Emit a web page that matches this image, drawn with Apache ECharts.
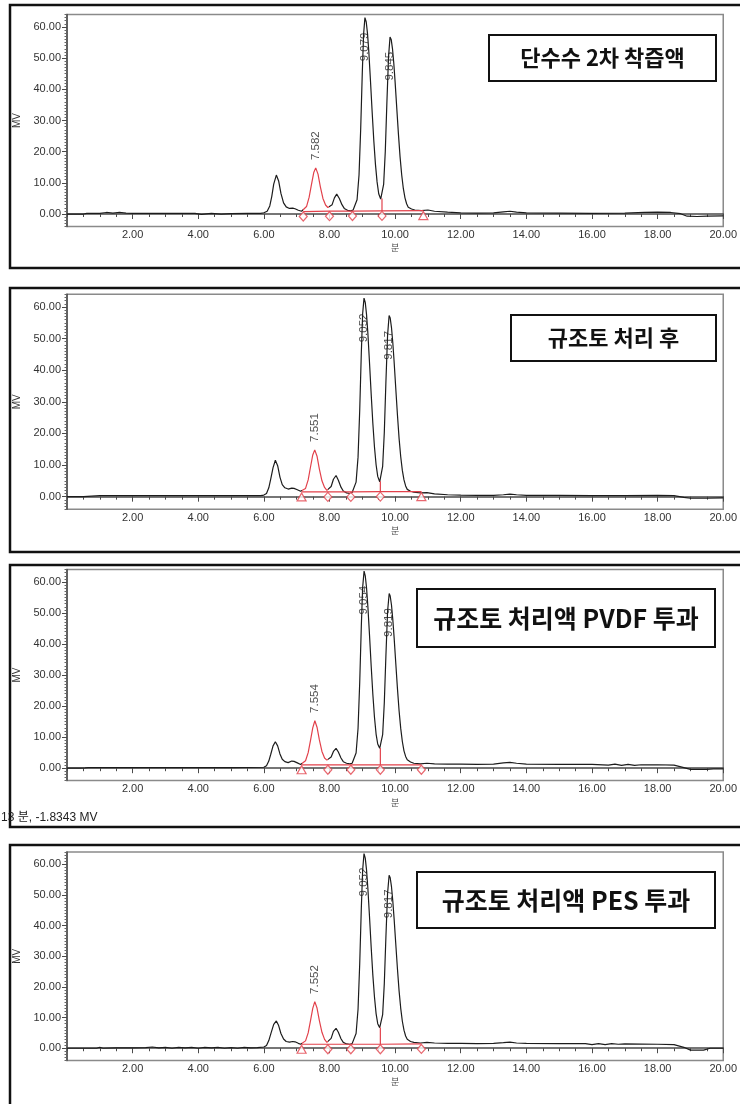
<!DOCTYPE html>
<html><head><meta charset="utf-8">
<script src="https://cdn.jsdelivr.net/npm/echarts@6/dist/echarts.min.js"></script>
<style>html,body{margin:0;padding:0;background:#fff}#c{width:740px;height:1104px}</style>
</head><body><div id="c"></div>
<script>
// ---------------- data ----------------
const panelTitles = ['단수수 2차 착즙액', '규조토 처리 후', '규조토 처리액 PVDF 투과', '규조토 처리액 PES 투과'];
const yTickValues = [0, 10, 20, 30, 40, 50, 60];
const xTickValues = [2, 4, 6, 8, 10, 12, 14, 16, 18, 20];
const xAxisName = '분';
const yAxisName = 'MV';
const cursorReadout = '13 분, -1.8343 MV';

const p1Signal = [[0,0],[0.5,0],[0.6,0.2],[1.0,0.2],[1.2,0.5],[1.4,0.3],[1.6,0.5],[1.8,0.3],[2.0,0.2],[3.0,0.2],[3.9,0.2],[4.1,-0.1],[4.4,0.2],[4.7,0.0],[5.0,0.1],[5.5,0.2],[5.9,0.2],[6.0,0.4],[6.1,0.9],[6.18,2.6],[6.24,5.6],[6.3,9.6],[6.38,12.5],[6.45,10.6],[6.52,6.6],[6.6,3.6],[6.68,2.3],[6.78,1.8],[6.88,1.9],[6.95,1.7],[7.05,1.2],[7.15,0.9],[7.2,0.9],[7.3,2.4],[7.38,5.4],[7.45,9.4],[7.52,13.3],[7.58,14.8],[7.65,12.8],[7.72,8.8],[7.8,5.0],[7.88,2.9],[7.95,2.1],[8.0,2.1],[8.08,3.0],[8.15,5.2],[8.22,6.4],[8.3,5.0],[8.38,3.0],[8.45,1.8],[8.55,1.2],[8.65,1.0],[8.72,1.3],[8.78,1.9],[8.84,4.6],[8.9,12.5],[8.95,27.0],[9.0,45.5],[9.04,57.8],[9.08,63.0],[9.12,61.6],[9.16,57.7],[9.2,51.8],[9.25,42.5],[9.3,32.7],[9.35,23.6],[9.4,16.0],[9.45,10.3],[9.5,6.5],[9.56,4.8],[9.6,5.3],[9.65,9.5],[9.7,20.0],[9.75,36.0],[9.8,50.5],[9.845,56.8],[9.88,56.0],[9.92,53.0],[9.96,48.3],[10.0,42.3],[10.05,34.0],[10.1,25.8],[10.15,18.4],[10.2,12.6],[10.25,8.2],[10.3,5.2],[10.35,3.3],[10.4,2.2],[10.5,1.6],[10.6,1.3],[10.8,1.1],[11.0,1.3],[11.2,0.9],[11.6,0.6],[12.0,0.4],[12.5,0.3],[13.0,0.4],[13.3,0.7],[13.5,0.9],[13.7,0.6],[14.0,0.4],[15.0,0.3],[16.0,0.2],[17.0,0.3],[17.6,0.5],[18.0,0.6],[18.4,0.5],[18.7,0.1],[18.9,-0.7],[19.2,-0.8],[19.5,-0.7],[20.0,-0.6]];
const p2Signal = [[0,0],[0.5,0],[0.55,0.3],[1,0.3],[2,0.3],[3,0.3],[4,0.3],[5,0.3],[5.9,0.3],[6.0,0.5],[6.08,1.0],[6.15,2.8],[6.21,5.6],[6.28,9.2],[6.35,11.5],[6.42,9.8],[6.49,6.2],[6.56,3.8],[6.64,2.8],[6.74,2.4],[6.85,2.7],[6.92,2.6],[7.02,2.2],[7.12,1.7],[7.17,1.6],[7.27,2.6],[7.35,5.3],[7.42,9.3],[7.49,13.2],[7.55,14.8],[7.62,12.8],[7.69,8.8],[7.77,5.0],[7.85,2.9],[7.92,2.0],[7.97,2.0],[8.05,3.2],[8.12,5.5],[8.2,6.7],[8.27,5.2],[8.35,3.0],[8.42,1.8],[8.52,1.2],[8.62,1.0],[8.69,1.3],[8.75,1.9],[8.81,4.6],[8.87,12.5],[8.92,27.0],[8.97,45.5],[9.01,57.8],[9.052,62.8],[9.09,61.4],[9.13,57.5],[9.17,51.6],[9.22,42.3],[9.27,32.5],[9.32,23.4],[9.37,15.8],[9.42,10.1],[9.47,6.4],[9.53,4.7],[9.57,5.3],[9.62,9.6],[9.67,20.2],[9.72,36.5],[9.77,51.0],[9.817,57.3],[9.85,56.5],[9.89,53.4],[9.93,48.6],[9.97,42.6],[10.02,34.2],[10.07,26.0],[10.12,18.5],[10.17,12.7],[10.22,8.3],[10.27,5.3],[10.32,3.4],[10.37,2.3],[10.47,1.7],[10.57,1.4],[10.77,1.2],[10.97,1.3],[11.2,0.9],[11.6,0.6],[12,0.5],[12.5,0.4],[13,0.4],[13.3,0.6],[13.5,0.8],[13.7,0.6],[14,0.4],[15,0.4],[16,0.3],[17,0.3],[18,0.4],[18.5,0.3],[18.8,-0.2],[19.0,-0.5],[19.5,-0.5],[20,-0.4]];
const p3Signal = [[0,0],[0.3,0],[0.35,0.2],[0.42,0],[0.55,0.1],[0.65,0.2],[1,0.2],[2,0.2],[3,0.2],[4,0.2],[5,0.2],[6.0,0.3],[6.08,0.8],[6.15,2.3],[6.21,4.5],[6.28,7.2],[6.35,8.5],[6.42,7.2],[6.49,4.6],[6.56,2.9],[6.64,2.1],[6.74,1.8],[6.85,2.3],[6.92,2.2],[7.02,1.7],[7.12,1.2],[7.17,1.2],[7.27,2.4],[7.35,5.0],[7.42,8.9],[7.49,13.0],[7.554,15.3],[7.62,13.2],[7.69,9.2],[7.77,5.4],[7.85,3.3],[7.92,2.6],[7.97,2.6],[8.05,3.6],[8.12,5.4],[8.2,6.4],[8.27,5.2],[8.35,3.3],[8.42,2.1],[8.52,1.6],[8.62,1.4],[8.69,1.6],[8.75,2.2],[8.81,4.9],[8.87,12.8],[8.92,27.3],[8.97,45.8],[9.01,58.2],[9.054,63.5],[9.09,62.0],[9.13,58.0],[9.17,52.0],[9.22,42.8],[9.27,33.0],[9.32,24.0],[9.37,16.5],[9.42,11.0],[9.47,7.8],[9.53,6.4],[9.57,6.8],[9.62,10.8],[9.67,21.0],[9.72,36.5],[9.77,50.5],[9.819,56.3],[9.85,55.5],[9.89,52.5],[9.93,47.8],[9.97,42.0],[10.02,33.8],[10.07,25.8],[10.12,18.6],[10.17,12.9],[10.22,8.6],[10.27,5.6],[10.32,3.8],[10.37,2.7],[10.47,2.0],[10.57,1.6],[10.77,1.4],[10.97,1.6],[11.2,1.4],[11.6,1.3],[12,1.3],[12.5,1.2],[13,1.3],[13.3,1.7],[13.5,1.9],[13.7,1.6],[14,1.3],[15,1.2],[16,1.2],[16.5,1.0],[16.7,1.3],[16.9,0.9],[17.1,1.2],[17.3,0.9],[17.5,1.1],[18,1.1],[18.5,1.0],[18.8,0.2],[19.0,-0.4],[19.5,-0.4],[19.7,-0.2],[20,-0.2]];
const p4Signal = [[0,0],[0.9,0],[1.0,0.3],[1.1,0],[1.5,0.1],[2.0,0.1],[2.4,0.2],[2.6,0.4],[2.8,0.1],[3.0,0.3],[3.2,0.0],[3.4,0.3],[3.6,0.1],[3.8,0.3],[4.0,0.0],[4.2,0.3],[4.4,0.1],[4.6,0.3],[4.8,0.0],[5.0,0.2],[5.2,0.0],[5.4,0.3],[5.6,0.1],[5.8,0.2],[6.0,0.4],[6.08,0.9],[6.15,2.5],[6.22,5.0],[6.3,7.8],[6.38,8.9],[6.45,7.4],[6.52,4.8],[6.6,3.0],[6.68,2.2],[6.78,2.0],[6.88,2.2],[6.95,2.1],[7.05,1.6],[7.12,1.3],[7.17,1.3],[7.27,2.4],[7.35,5.0],[7.42,8.9],[7.49,13.0],[7.552,15.2],[7.62,13.1],[7.69,9.1],[7.77,5.2],[7.85,2.9],[7.92,1.9],[7.97,1.9],[8.05,3.2],[8.12,5.5],[8.2,6.5],[8.27,5.2],[8.35,3.1],[8.42,1.9],[8.52,1.4],[8.62,1.3],[8.69,1.5],[8.75,2.1],[8.81,4.8],[8.87,12.7],[8.92,27.2],[8.97,45.7],[9.01,58.0],[9.052,63.5],[9.09,62.0],[9.13,58.0],[9.17,52.0],[9.22,42.8],[9.27,33.0],[9.32,24.0],[9.37,16.8],[9.42,11.3],[9.47,8.0],[9.53,6.7],[9.57,7.1],[9.62,11.0],[9.67,21.0],[9.72,36.5],[9.77,50.5],[9.817,56.4],[9.85,55.6],[9.89,52.6],[9.93,47.9],[9.97,42.1],[10.02,34.0],[10.07,26.0],[10.12,18.8],[10.17,13.1],[10.22,8.8],[10.27,5.9],[10.32,4.0],[10.37,2.9],[10.47,2.2],[10.57,1.9],[10.77,1.7],[10.97,1.9],[11.2,1.7],[11.6,1.6],[12,1.6],[12.5,1.5],[13,1.6],[13.3,1.8],[13.5,2.0],[13.7,1.7],[14,1.6],[15,1.5],[15.8,1.5],[16.0,1.2],[16.2,1.5],[16.4,1.2],[16.6,1.5],[16.8,1.3],[17,1.4],[18,1.3],[18.5,1.2],[18.8,0.3],[19.0,-0.6],[19.4,-0.6],[19.6,0.0],[20,0.0]];

const p1PeakLabels = ['7.582', '9.079', '9.845'];
const p2PeakLabels = ['7.551', '9.052', '9.817'];
const p3PeakLabels = ['7.554', '9.054', '9.819'];
const p4PeakLabels = ['7.552', '9.052', '9.817'];
const p1PeakHeights = [14.8, 63.0, 56.8];
const p2PeakHeights = [14.8, 62.8, 57.3];
const p3PeakHeights = [15.3, 63.5, 56.3];
const p4PeakHeights = [15.2, 63.5, 56.4];

const p1Baseline = [[7.2,0.8],[8.0,0.9],[8.7,0.95],[9.6,1.0],[10.86,1.1]];
const p2Baseline = [[7.15,1.5],[7.95,1.5],[8.65,1.5],[9.55,1.6],[10.8,1.6]];
const p3Baseline = [[7.15,1.1],[7.95,1.1],[8.65,1.1],[9.55,1.1],[10.8,1.1]];
const p4Baseline = [[7.15,1.3],[7.95,1.3],[8.65,1.3],[9.55,1.3],[10.8,1.4]];
const p1MarkShapes = ['diamond','diamond','diamond','diamond','triangle'];
const p2MarkShapes = ['triangle','diamond','diamond','diamond','triangle'];
const p3MarkShapes = ['triangle','diamond','diamond','diamond','diamond'];
const p4MarkShapes = ['triangle','diamond','diamond','diamond','diamond'];
const p1ValleyDrop = [9.6, 5.0];
const p2ValleyDrop = [9.55, 4.9];
const p3ValleyDrop = [9.55, 6.5];
const p4ValleyDrop = [9.55, 6.8];
const p1RedPeakRange = [7.2, 8.0];
const p2RedPeakRange = [7.15, 7.95];
const p3RedPeakRange = [7.15, 7.95];
const p4RedPeakRange = [7.15, 7.95];

// ---------------- build ----------------
const panels = [
  {signal: p1Signal, labels: p1PeakLabels, heights: p1PeakHeights, base: p1Baseline, shapes: p1MarkShapes, drop: p1ValleyDrop, red: p1RedPeakRange},
  {signal: p2Signal, labels: p2PeakLabels, heights: p2PeakHeights, base: p2Baseline, shapes: p2MarkShapes, drop: p2ValleyDrop, red: p2RedPeakRange},
  {signal: p3Signal, labels: p3PeakLabels, heights: p3PeakHeights, base: p3Baseline, shapes: p3MarkShapes, drop: p3ValleyDrop, red: p3RedPeakRange},
  {signal: p4Signal, labels: p4PeakLabels, heights: p4PeakHeights, base: p4Baseline, shapes: p4MarkShapes, drop: p4ValleyDrop, red: p4RedPeakRange}
];
// layout (pixels)
const gridTops = [14.5, 294.3, 569.6, 852];
const gridHeights = [212, 215, 211, 208.5];
const frameBoxes = [[10, 5, 263], [10, 288, 264], [10, 565, 262], [10, 845, 270]];
const titleBoxes = [[489, 35, 227, 46, 22], [511, 315, 205, 46, 22], [417, 589, 298, 58, 25], [417, 872, 298, 56, 25]];

const RED = '#e2414b';
const INK = '#1c1c1c';
const AX = '#4a4a4a';
const FONT = 'Arial, "Liberation Sans", sans-serif';
const YMIN = -4, YMAX = 64;

const grid = [], xAxis = [], yAxis = [], series = [], visualMap = [], graphic = [];

panels.forEach((p, i) => {
  grid.push({left: 67, right: 15, top: gridTops[i], height: gridHeights[i], show: true, borderColor: '#8a8a8a', borderWidth: 1.5, backgroundColor: '#fff'});
  xAxis.push({type: 'value', gridIndex: i, min: 0, max: 20, interval: 0.5, position: 'bottom',
    axisLine: {show: true, lineStyle: {color: AX, width: 1.5}},
    axisTick: {show: true, length: 3, lineStyle: {color: AX}},
    axisLabel: {show: false}, splitLine: {show: false}});
  xAxis.push({type: 'value', gridIndex: i, min: 0, max: 20, position: 'bottom',
    axisLine: {show: false},
    axisTick: {show: true, length: 5, customValues: xTickValues, lineStyle: {color: AX}},
    axisLabel: {show: true, customValues: xTickValues, formatter: v => v.toFixed(2), fontSize: 11, color: '#333', fontFamily: FONT, margin: 3},
    splitLine: {show: false},
    name: xAxisName, nameLocation: 'middle', nameGap: 17, nameTextStyle: {fontSize: 9, color: '#444', fontFamily: '"Noto Sans CJK KR", sans-serif'}});
  yAxis.push({type: 'value', gridIndex: i, min: YMIN, max: YMAX, interval: 1, position: 'left',
    axisLine: {show: true, lineStyle: {color: AX, width: 1.5}},
    axisTick: {show: true, length: 2.5, lineStyle: {color: '#666'}},
    axisLabel: {show: false}, splitLine: {show: false}});
  yAxis.push({type: 'value', gridIndex: i, min: YMIN, max: YMAX, position: 'left',
    axisLine: {show: false},
    axisTick: {show: true, length: 5, customValues: yTickValues, lineStyle: {color: AX}},
    axisLabel: {show: true, customValues: yTickValues, formatter: v => v.toFixed(2), fontSize: 11, color: '#333', fontFamily: FONT, margin: 6},
    splitLine: {show: false},
    name: yAxisName, nameLocation: 'middle', nameGap: 39, nameRotate: 90, nameTextStyle: {fontSize: 10, color: '#333', fontFamily: FONT}});

  const xi = 2 * i, yi = 2 * i;
  const sigIndex = series.length;
  series.push({type: 'line', xAxisIndex: xi, yAxisIndex: yi, data: p.signal, showSymbol: false, symbol: 'none',
    lineStyle: {width: 1.2}, z: 3, silent: true, animation: false});
  visualMap.push({type: 'piecewise', show: false, seriesIndex: sigIndex, dimension: 0,
    pieces: [{gte: p.red[0], lte: p.red[1], color: RED}], outOfRange: {color: INK}});
  series.push({type: 'line', xAxisIndex: xi, yAxisIndex: yi, data: p.base, showSymbol: false, symbol: 'none',
    lineStyle: {color: RED, width: 1.2}, z: 4, silent: true, animation: false});
  series.push({type: 'line', xAxisIndex: xi, yAxisIndex: yi, data: [[p.drop[0], p.base.find(b => b[0] === p.drop[0])[1]], p.drop], showSymbol: false, symbol: 'none',
    lineStyle: {color: RED, width: 1.2}, z: 4, silent: true, animation: false});
  series.push({type: 'scatter', xAxisIndex: xi, yAxisIndex: yi, z: 5, silent: true, animation: false,
    data: p.base.map((b, k) => ({value: b, symbol: p.shapes[k], symbolSize: p.shapes[k] === 'diamond' ? [8, 9] : [9, 8]})),
    symbolOffset: [0, 5],
    itemStyle: {color: '#fff', borderColor: RED, borderWidth: 1.2}});
  series.push({type: 'scatter', xAxisIndex: xi, yAxisIndex: yi, z: 6, silent: true, animation: false,
    symbolSize: 1, itemStyle: {color: 'rgba(0,0,0,0)'},
    data: p.labels.map((t, k) => ({name: t, value: [parseFloat(t), p.heights[k] > 40 ? p.heights[k] - 14 : p.heights[k] + 2.5]})),
    label: {show: true, formatter: '{b}', position: 'inside', rotate: 90, align: 'left', verticalAlign: 'middle',
      fontSize: 11.5, color: '#222', fontFamily: FONT}});

  const fb = frameBoxes[i];
  graphic.push({type: 'rect', silent: true, z: 0, shape: {x: fb[0], y: fb[1], width: 740, height: fb[2]},
    style: {fill: 'none', stroke: '#111', lineWidth: 2.5}});
  const tb = titleBoxes[i];
  graphic.push({type: 'rect', silent: true, z: 100, shape: {x: tb[0], y: tb[1], width: tb[2], height: tb[3]},
    style: {fill: '#fff', stroke: '#111', lineWidth: 2}});
  graphic.push({type: 'text', silent: true, z: 101, x: tb[0] + tb[2] / 2, y: tb[1] + tb[3] / 2,
    style: {text: panelTitles[i], fill: '#111', font: 'bold ' + tb[4] + 'px "Noto Sans CJK KR", sans-serif',
      align: 'center', verticalAlign: 'middle', textAlign: 'center', textVerticalAlign: 'middle'}});
});

graphic.push({type: 'text', silent: true, z: 101, x: 1, y: 818,
  style: {text: cursorReadout, fill: '#222', font: '12px Arial, "Liberation Sans", "Noto Sans CJK KR", sans-serif',
    align: 'left', verticalAlign: 'middle', textAlign: 'left', textVerticalAlign: 'middle'}});

const chart = echarts.init(document.getElementById('c'), null, {renderer: 'canvas'});
chart.setOption({animation: false, backgroundColor: '#fff', grid, xAxis, yAxis, series, visualMap, graphic});
</script>
</body></html>
